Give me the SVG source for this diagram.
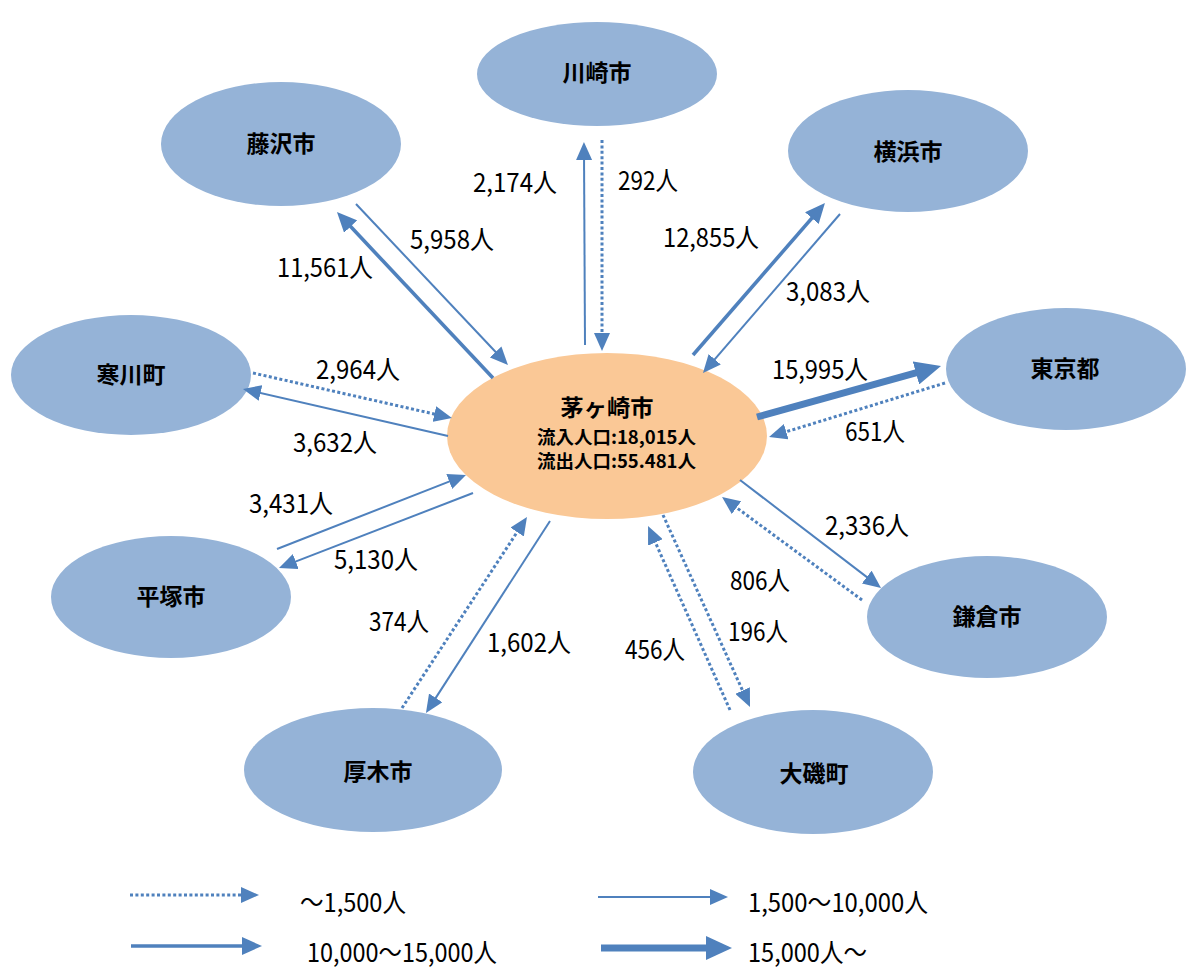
<svg xmlns="http://www.w3.org/2000/svg" width="1187" height="968" viewBox="0 0 1187 968">
<style>
.node{fill:#95B3D7;}
.center{fill:#FAC896;}
.nl{font-family:"Noto Sans CJK JP","Noto Sans",sans-serif;font-weight:bold;font-size:23px;fill:#000;text-anchor:middle;}
.cl{font-family:"Noto Sans CJK JP","Noto Sans",sans-serif;font-weight:bold;font-size:18px;fill:#000;}
.lb{font-family:"Noto Sans CJK JP","Noto Sans",sans-serif;font-size:26px;fill:#000;}
.a{stroke:#4F81BD;fill:none;stroke-linecap:butt;}
.thin{stroke-width:2;marker-end:url(#hThin);}
.dot{stroke-width:3;stroke-dasharray:3 2.4;marker-end:url(#hThin);}
.med{stroke-width:3.6;marker-end:url(#hMed);}
.thick{stroke-width:7;marker-end:url(#hThick);}
</style>
<defs>
<marker id="hThin" markerUnits="userSpaceOnUse" markerWidth="18" markerHeight="16" viewBox="0 0 18 16" refX="8" refY="8" orient="auto"><path d="M0,0 L18,8 L0,16 z" fill="#4F81BD"/></marker>
<marker id="hMed" markerUnits="userSpaceOnUse" markerWidth="20" markerHeight="18" viewBox="0 0 20 18" refX="10" refY="9" orient="auto"><path d="M0,0 L20,9 L0,18 z" fill="#4F81BD"/></marker>
<marker id="hThick" markerUnits="userSpaceOnUse" markerWidth="26" markerHeight="24" viewBox="0 0 26 24" refX="12" refY="12" orient="auto"><path d="M0,0 L26,12 L0,24 z" fill="#4F81BD"/></marker>
</defs>
<rect width="1187" height="968" fill="#fff"/>

<g id="kawasaki"><ellipse class="node" cx="597" cy="74" rx="120" ry="52"/><text class="nl" x="597" y="81">川崎市</text></g>
<g id="fujisawa"><ellipse class="node" cx="281" cy="144" rx="120" ry="62"/><text class="nl" x="281" y="152">藤沢市</text></g>
<g id="yokohama"><ellipse class="node" cx="908" cy="151" rx="120" ry="61"/><text class="nl" x="908" y="160">横浜市</text></g>
<g id="samukawa"><ellipse class="node" cx="131" cy="375" rx="120" ry="60"/><text class="nl" x="131" y="383">寒川町</text></g>
<g id="tokyo"><ellipse class="node" cx="1066" cy="369" rx="120" ry="61"/><text class="nl" x="1065" y="377">東京都</text></g>
<g id="hiratsuka"><ellipse class="node" cx="171" cy="597" rx="120" ry="61"/><text class="nl" x="171" y="605">平塚市</text></g>
<g id="kamakura"><ellipse class="node" cx="987" cy="617" rx="120" ry="61"/><text class="nl" x="987" y="625">鎌倉市</text></g>
<g id="atsugi"><ellipse class="node" cx="373" cy="770" rx="129" ry="62"/><text class="nl" x="378" y="780">厚木市</text></g>
<g id="oiso"><ellipse class="node" cx="813" cy="772" rx="120" ry="62"/><text class="nl" x="814" y="782">大磯町</text></g>
<g id="chigasaki"><ellipse class="center" cx="607" cy="436" rx="160" ry="83"/>
<text class="nl" x="607" y="416" font-size="24" textLength="93" lengthAdjust="spacingAndGlyphs">茅ヶ崎市</text>
<text class="cl" x="537" y="444" textLength="159" lengthAdjust="spacingAndGlyphs">流入人口:18,015人</text>
<text class="cl" x="537" y="468" textLength="159" lengthAdjust="spacingAndGlyphs">流出人口:55.481人</text>
</g>

<g id="connectors">
<line class="a thin" x1="356" y1="204" x2="501.1" y2="357.7"/>
<line class="a med" x1="493" y1="378" x2="343.8" y2="219.3"/>
<line class="a thin" x1="585" y1="345" x2="584" y2="152"/>
<line class="a dot" x1="602" y1="140" x2="602" y2="341"/>
<line class="a med" x1="693" y1="355" x2="818.4" y2="210.6"/>
<line class="a thin" x1="840" y1="214" x2="709.5" y2="365.4"/>
<line class="a thick" x1="757" y1="417" x2="927.5" y2="369.7"/>
<line class="a dot" x1="945" y1="383" x2="778.6" y2="434.1"/>
<line class="a dot" x1="253" y1="373" x2="442.2" y2="415.8"/>
<line class="a thin" x1="448" y1="436" x2="252.7" y2="391.2"/>
<line class="a thin" x1="277" y1="549" x2="456.7" y2="478.6"/>
<line class="a thin" x1="473" y1="493" x2="288.3" y2="564.4"/>
<line class="a dot" x1="402" y1="708" x2="521.5" y2="525.4"/>
<line class="a thin" x1="550" y1="521" x2="431.4" y2="704.6"/>
<line class="a dot" x1="730" y1="710" x2="652.1" y2="535.1"/>
<line class="a dot" x1="663" y1="515" x2="745.9" y2="697.9"/>
<line class="a thin" x1="740" y1="480" x2="873.1" y2="581.9"/>
<line class="a dot" x1="862" y1="600" x2="730.1" y2="502.9"/>
</g>

<g id="labels">
<text class="lb" x="473" y="192" textLength="84" lengthAdjust="spacingAndGlyphs">2,174人</text>
<text class="lb" x="618" y="190" textLength="60" lengthAdjust="spacingAndGlyphs">292人</text>
<text class="lb" x="410" y="249" textLength="84" lengthAdjust="spacingAndGlyphs">5,958人</text>
<text class="lb" x="277" y="277" textLength="96" lengthAdjust="spacingAndGlyphs">11,561人</text>
<text class="lb" x="663" y="247" textLength="96" lengthAdjust="spacingAndGlyphs">12,855人</text>
<text class="lb" x="786" y="301" textLength="84" lengthAdjust="spacingAndGlyphs">3,083人</text>
<text class="lb" x="316" y="379" textLength="84" lengthAdjust="spacingAndGlyphs">2,964人</text>
<text class="lb" x="772" y="379" textLength="96" lengthAdjust="spacingAndGlyphs">15,995人</text>
<text class="lb" x="293" y="452" textLength="84" lengthAdjust="spacingAndGlyphs">3,632人</text>
<text class="lb" x="845" y="441" textLength="60" lengthAdjust="spacingAndGlyphs">651人</text>
<text class="lb" x="249" y="513" textLength="84" lengthAdjust="spacingAndGlyphs">3,431人</text>
<text class="lb" x="334" y="569" textLength="84" lengthAdjust="spacingAndGlyphs">5,130人</text>
<text class="lb" x="825" y="535" textLength="84" lengthAdjust="spacingAndGlyphs">2,336人</text>
<text class="lb" x="730" y="590" textLength="60" lengthAdjust="spacingAndGlyphs">806人</text>
<text class="lb" x="369" y="631" textLength="60" lengthAdjust="spacingAndGlyphs">374人</text>
<text class="lb" x="487" y="652" textLength="84" lengthAdjust="spacingAndGlyphs">1,602人</text>
<text class="lb" x="728" y="641" textLength="60" lengthAdjust="spacingAndGlyphs">196人</text>
<text class="lb" x="625" y="659" textLength="60" lengthAdjust="spacingAndGlyphs">456人</text>
</g>

<g id="legend">
<line class="a dot" x1="130" y1="895" x2="249" y2="895"/>
<text class="lb" x="300" y="912" textLength="106" lengthAdjust="spacingAndGlyphs">～1,500人</text>
<line class="a thin" x1="598" y1="897" x2="718" y2="897"/>
<text class="lb" x="748" y="912" textLength="180" lengthAdjust="spacingAndGlyphs">1,500～10,000人</text>
<line class="a med" x1="131" y1="946" x2="252" y2="946"/>
<text class="lb" x="307" y="962" textLength="190" lengthAdjust="spacingAndGlyphs">10,000～15,000人</text>
<line class="a thick" x1="601" y1="948" x2="718" y2="948"/>
<text class="lb" x="748" y="962" textLength="119" lengthAdjust="spacingAndGlyphs">15,000人～</text>
</g>
</svg>
